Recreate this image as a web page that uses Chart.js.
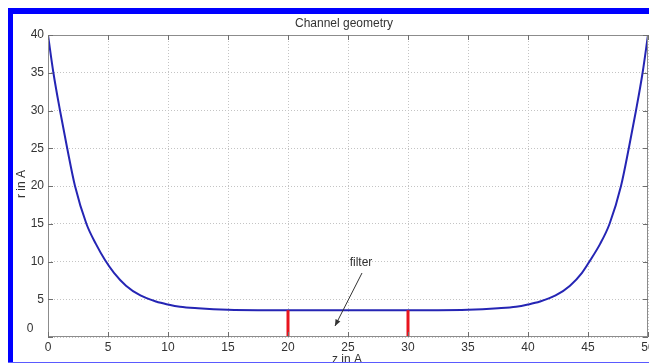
<!DOCTYPE html>
<html>
<head>
<meta charset="utf-8">
<script src="https://cdn.jsdelivr.net/npm/chart.js@4/dist/chart.umd.min.js"></script>
<style>
  html, body { margin: 0; padding: 0; background: #ffffff; }
  #wrap { position: relative; width: 649px; height: 364px; overflow: hidden; background: #fff; }
  canvas { position: absolute; left: 0; top: 0; }
  .bd { position: absolute; background: #0000ff; }
</style>
</head>
<body>
<div id="wrap">
  <canvas id="c" width="649" height="364"></canvas>
  <div class="bd" style="left:8px;top:8px;width:5px;height:355px;"></div>
  <div class="bd" style="left:8px;top:8px;width:641px;height:6px;"></div>
  <div class="bd" style="left:8px;top:362px;width:641px;height:1px;background:#5a5aff;"></div>
</div>
<script>
// ---- data ----
const zValues = [0, 0.45, 1.0, 1.6, 2.25, 3.2, 4.0, 4.75, 5.5, 6.5, 7.7, 9, 10, 11, 12.5, 15, 17.5,
                 20, 25, 30, 32.5, 35, 37.5, 39, 40, 41, 42.3, 43.5, 44.5, 45.2, 46, 46.8, 47.75, 48.4, 49.0, 49.55, 50];
const rValues = [40, 35, 30, 25, 20, 15, 12.3, 10.2, 8.5, 6.8, 5.5, 4.7, 4.3, 4.0, 3.8, 3.6, 3.55,
                 3.55, 3.55, 3.55, 3.55, 3.6, 3.8, 4.0, 4.3, 4.7, 5.5, 6.8, 8.5, 10.2, 12.3, 15, 20, 25, 30, 35, 40];
const filterEdges = [20, 30];
const filterRadius = 3.55;
const xTicks = [0, 5, 10, 15, 20, 25, 30, 35, 40, 45, 50];
const yTicks = [0, 5, 10, 15, 20, 25, 30, 35, 40];
const titleText = 'Channel geometry';
const xLabel = 'z in A';
const yLabel = 'r in A';
const noteText = 'filter';

const FONT = "'Liberation Sans', Arial, sans-serif";
Chart.defaults.font.family = FONT;
Chart.defaults.font.size = 12;
Chart.defaults.color = '#333333';

const curve = zValues.map((z, i) => ({ x: z, y: rValues[i] }));
const walls = filterEdges.map(z => ({
  data: [{ x: z, y: 0 }, { x: z, y: filterRadius }],
  borderColor: '#e8141e', borderWidth: 3, pointRadius: 0, showLine: true, order: 0
}));

function noPad(scale) {
  scale.paddingLeft = 0; scale.paddingRight = 0;
  scale.paddingTop = 0; scale.paddingBottom = 0;
}

const decor = {
  id: 'decor',
  afterDraw(chart) {
    const ctx = chart.ctx, a = chart.chartArea;
    const xs = chart.scales.x, ys = chart.scales.y;
    ctx.save();
    // box
    ctx.strokeStyle = '#8c8c8c'; ctx.lineWidth = 1;
    ctx.strokeRect(a.left + 0.5, a.top + 0.5, a.right - a.left - 1, a.bottom - a.top - 1);
    // inner ticks
    ctx.strokeStyle = '#6e6e6e';
    ctx.beginPath();
    xTicks.forEach(v => {
      const px = Math.round(xs.getPixelForValue(v)) + 0.5;
      ctx.moveTo(px, a.bottom); ctx.lineTo(px, a.bottom - 5);
      ctx.moveTo(px, a.top); ctx.lineTo(px, a.top + 5);
    });
    yTicks.forEach(v => {
      const py = Math.round(ys.getPixelForValue(v)) + 0.5;
      ctx.moveTo(a.left, py); ctx.lineTo(a.left + 5, py);
      ctx.moveTo(a.right, py); ctx.lineTo(a.right - 5, py);
    });
    ctx.stroke();
    // texts
    ctx.fillStyle = '#333333';
    ctx.font = '12px ' + FONT;
    ctx.textAlign = 'center'; ctx.textBaseline = 'middle';
    ctx.fillText(titleText, 344, 24);
    ctx.fillText('0', 30, 329);
    ctx.fillText(noteText, 361, 263);
    ctx.textBaseline = 'top';
    ctx.fillText(xLabel, 347, 354);
    ctx.save();
    ctx.translate(22, 184);
    ctx.rotate(-Math.PI / 2);
    ctx.textBaseline = 'middle';
    ctx.fillText(yLabel, 0, 0);
    ctx.restore();
    // arrow
    const x1 = 362, y1 = 273, x2 = 335, y2 = 326;
    ctx.strokeStyle = '#333'; ctx.lineWidth = 1;
    ctx.beginPath(); ctx.moveTo(x1, y1); ctx.lineTo(x2, y2); ctx.stroke();
    const ang = Math.atan2(y2 - y1, x2 - x1), L = 7, W = 0.4;
    ctx.beginPath();
    ctx.moveTo(x2, y2);
    ctx.lineTo(x2 - L * Math.cos(ang - W), y2 - L * Math.sin(ang - W));
    ctx.lineTo(x2 - L * Math.cos(ang + W), y2 - L * Math.sin(ang + W));
    ctx.closePath(); ctx.fillStyle = '#333'; ctx.fill();
    ctx.restore();
  }
};

new Chart(document.getElementById('c'), {
  type: 'line',
  data: {
    datasets: [
      { data: curve, borderColor: '#2525b4', borderWidth: 2, pointRadius: 0,
        cubicInterpolationMode: 'monotone', order: 1 },
      ...walls
    ]
  },
  options: {
    responsive: false,
    animation: false,
    devicePixelRatio: 1,
    layout: { padding: { top: 35, left: 0, right: 1, bottom: 0 } },
    plugins: { legend: { display: false }, tooltip: { enabled: false }, title: { display: false } },
    scales: {
      x: {
        type: 'linear', min: 0, max: 50,
        afterBuildTicks: s => { s.ticks = xTicks.map(v => ({ value: v })); },
        afterFit: s => { s.height = 27; noPad(s); },
        ticks: { padding: 3, maxRotation: 0, autoSkip: false, color: '#333' },
        grid: { color: '#c4c4c4', drawTicks: false, lineWidth: 1 },
        border: { display: false, dash: [1, 2] }
      },
      y: {
        type: 'linear', min: 0, max: 40,
        afterBuildTicks: s => { s.ticks = yTicks.map(v => ({ value: v })); },
        afterFit: s => { s.width = 48; noPad(s); },
        ticks: { padding: 4, autoSkip: false, color: '#333', callback: v => (v === 0 ? '' : v) },
        grid: { color: '#c4c4c4', drawTicks: false, lineWidth: 1 },
        border: { display: false, dash: [1, 2] }
      }
    }
  },
  plugins: [decor]
});
</script>
</body>
</html>
